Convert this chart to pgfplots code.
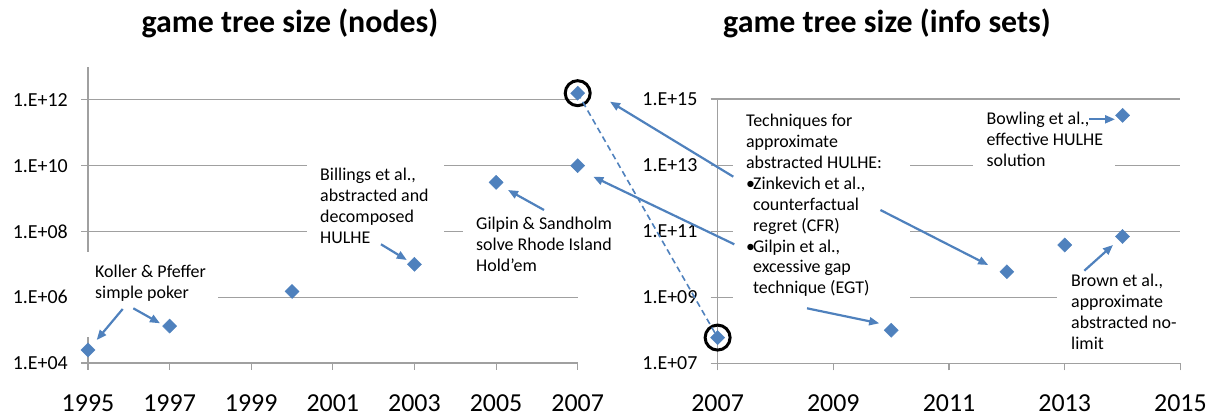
\documentclass[border=0pt]{standalone}
\usepackage{fontspec}
\setmainfont{Carlito}
\usepackage{pgfplots}
\pgfplotsset{compat=1.18}
\usetikzlibrary{arrows.meta}
\definecolor{myblue}{RGB}{79,129,189}
\definecolor{gridgray}{RGB}{160,160,160}
\newcommand{\ann}[1]{{\fontsize{18}{21}\selectfont\begin{tabular}[t]{@{}l@{}}#1\end{tabular}}}
\newcommand{\bul}{\makebox[7bp][l]{\textbullet}}
\newcommand{\ind}{\hspace*{7bp}}
\pgfplotsset{
  every axis/.append style={
    scale only axis,
    axis x line*=bottom, axis y line*=left,
    ymajorgrids, yminorticks=false, xminorticks=false,
    grid style={gridgray, line width=1.1bp},
    axis line style={gridgray, line width=1.1bp},
    tick style={gridgray, line width=1.1bp},
    tick align=outside, major tick length=7bp,
    xticklabel style={font=\fontsize{26}{26}\selectfont, inner sep=0pt, yshift=-24bp},
    yticklabel style={font=\fontsize{20}{20}\selectfont, inner sep=0pt, xshift=-13bp},
    /pgf/number format/1000 sep={},
    /pgf/number format/assume math mode=true,
    clip=false,
  },
  dmark/.style={only marks, mark=square*, mark size=5bp, mark options={rotate=45, fill=myblue, draw=myblue}},
  cmark/.style={only marks, mark=o, mark size=12.5bp, mark options={line width=3bp, draw=black}},
}
\begin{document}
\begin{tikzpicture}[x=1bp,y=1bp]
\path[use as bounding box] (0,0) rectangle (1215,417);
% Left axis
\begin{axis}[at={(88bp,54bp)}, anchor=south west, ymode=log, width=489.7bp, height=296bp,
  xmin=1995, xmax=2007, ymin=1e4, ymax=1e13,
  xtick={1995,1997,1999,2001,2003,2005,2007},
  ytick={1e4,1e6,1e8,1e10,1e12},
  yticklabels={1.E+04,1.E+06,1.E+08,1.E+10,1.E+12}]
\addplot[dmark] coordinates {(1995,2.5e4) (1997,1.33e5) (2000,1.5e6) (2003,1.0e7) (2005,3.1e9) (2007,1.0e10) (2007,1.6e12)};
\addplot[cmark] coordinates {(2007,1.6e12)};
\coordinate (L) at (axis cs:2007,1.6e12);
\end{axis}
% Right axis
\begin{axis}[at={(717.6bp,53.7bp)}, anchor=south west, ymode=log, width=462.8bp, height=264.3bp,
  xmin=2007, xmax=2015, ymin=1e7, ymax=1e15,
  xtick={2007,2009,2011,2013,2015},
  ytick={1e7,1e9,1e11,1e13,1e15},
  yticklabels={1.E+07,1.E+09,1.E+11,1.E+13,1.E+15}]
\addplot[dmark] coordinates {(2007,6e7) (2010,1.0e8) (2012,5.9e9) (2013,3.8e10) (2014,6.9e10) (2014,3.2e14)};
\addplot[cmark] coordinates {(2007,6e7)};
\coordinate (R) at (axis cs:2007,6e7);
\end{axis}
% titles
\node[anchor=base, font=\fontsize{32}{32}\selectfont\bfseries] at (290,385) {game tree size (nodes)};
\node[anchor=base, font=\fontsize{32}{32}\selectfont\bfseries] at (887,385) {game tree size (info sets)};
% white boxes over gridlines
\fill[white] (81,114) rectangle (218,165);
\fill[white] (81,80) rectangle (100,114);
\fill[white] (307,169) rectangle (444,259);
\fill[white] (463,142) rectangle (620,203);
\fill[white] (733.3,115) rectangle (909.8,311);
\fill[white] (972.5,247) rectangle (1114.5,313);
\fill[white] (1056.9,65) rectangle (1182,155);
% texts
\node[anchor=base west, inner sep=0pt] at (95,139.7) {\ann{Koller \& Pfeffer\\simple poker}};
\node[anchor=base west, inner sep=0pt] at (320,236.5) {\ann{Billings et al.,\\abstracted and\\decomposed\\HULHE}};
\node[anchor=base west, inner sep=0pt] at (476,187.2) {\ann{Gilpin \& Sandholm\\solve Rhode Island\\Hold’em}};
\node[anchor=base west, inner sep=0pt] at (745.9,290.5) {\ann{Techniques for\\approximate\\abstracted HULHE:\\\bul Zinkevich et al.,\\\ind counterfactual\\\ind regret (CFR)\\\bul Gilpin et al.,\\\ind excessive gap\\\ind technique (EGT)}};
\node[anchor=base west, inner sep=0pt] at (986.5,292.5) {\ann{Bowling et al.,\\effective HULHE\\solution}};
\node[anchor=base west, inner sep=0pt] at (1071,130.5) {\ann{Brown et al.,\\approximate\\abstracted no-\\limit}};
% arrows
\tikzset{arr/.style={draw=myblue, line width=2.2bp, -{Triangle[length=10bp,width=8bp]}}}
\draw[arr] (122.7,108) -- (96.7,77);
\draw[arr] (133.3,108.7) -- (160,93.7);
\draw[arr] (381,172.7) -- (406.8,157);
\draw[arr] (544,207) -- (508,227);
\draw[arr] (733.3,240.3) -- (610,315.3);
\draw[arr] (734.3,172.7) -- (593.3,240.3);
\draw[arr] (880.4,207) -- (988.2,152);
\draw[arr] (807,108.7) -- (879.2,93.7);
\draw[arr] (1089,297.7) -- (1115,297.7);
\draw[arr] (1084.3,146.3) -- (1113,172);
% dashed connector
\draw[myblue, line width=1.6bp, dash pattern=on 6bp off 4bp] (L) -- (R);
\end{tikzpicture}
\end{document}
